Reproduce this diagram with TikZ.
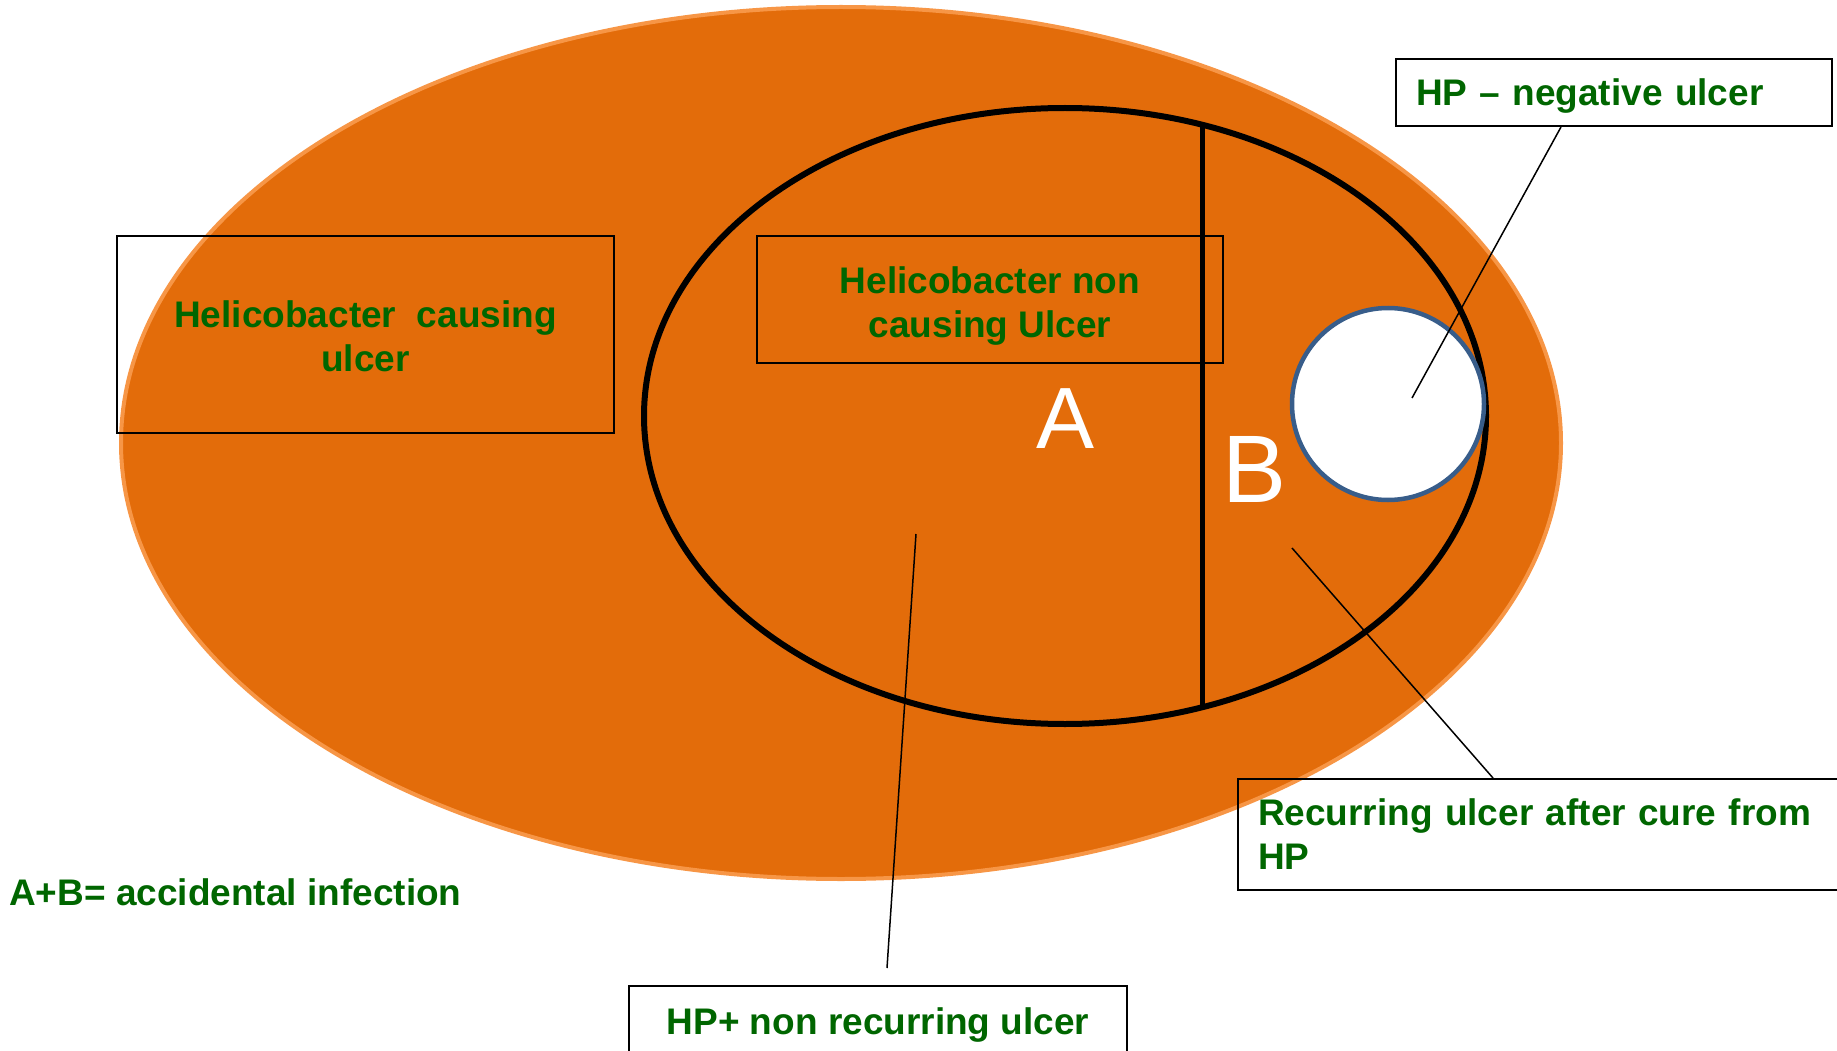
\documentclass[tikz,border=0pt]{standalone}
\usepackage{fontspec}
\setmainfont{Liberation Sans}
\definecolor{orangefill}{RGB}{227,108,10}
\definecolor{orangeedge}{RGB}{247,150,70}
\definecolor{labelgreen}{RGB}{0,102,0}
\definecolor{circleblue}{RGB}{56,93,138}
\newcommand\boldlabel{\fontsize{37}{44}\selectfont\bfseries}
\tikzset{
  labelbox/.style={draw=black, line width=2pt, font=\boldlabel, text=labelgreen, align=center},
  leader/.style={draw=black, line width=1.5pt},
  bigletter/.style={text=white, anchor=base, inner sep=0pt}
}
\begin{document}
\begin{tikzpicture}[x=1pt,y=-1pt]
\useasboundingbox (0,0) rectangle (1837,1051);
% outer population
\draw[fill=orangefill, draw=orangeedge, line width=4pt] (841,443) ellipse [x radius=720pt, y radius=436pt];
% inner ellipse
\draw[line width=6pt, black] (1065,416) ellipse [x radius=421pt, y radius=308pt];
% boxes
\node[labelbox, minimum width=497pt, minimum height=197pt] (causing) at (365.5,334.5) {\rule{0pt}{31pt}Helicobacter\ \ causing\\ulcer};
\node[labelbox, minimum width=466pt, minimum height=127pt] (noncausing) at (990,299.5) {\rule{0pt}{39pt}Helicobacter non\\causing Ulcer};
% divider
\draw[line width=5pt, black] (1202,125) -- (1202,707);
% HP negative circle
\draw[fill=white, draw=circleblue, line width=4.5pt] (1388,404) circle [radius=96pt];
\node[labelbox, minimum width=436pt, minimum height=67pt, inner xsep=20pt, text width=396pt, align=left, text height=26.5pt, text depth=0pt] (negative) at (1614,92.5) {HP – negative ulcer};
\node[labelbox, minimum width=620pt, minimum height=111pt, inner xsep=20pt, text width=580pt, align=left] (recurring) at (1548,834.5) {Recurring ulcer after cure from\\HP};
\node[labelbox, anchor=north, minimum width=498pt, inner ysep=18pt, text height=30pt, text depth=100pt] (nonrecurring) at (878,985) {HP+ non recurring ulcer};
% letters
\node[bigletter, font=\fontsize{87}{87}\selectfont] (labelA) at (1066,448) {A};
\node[bigletter, font=\fontsize{96}{96}\selectfont] (labelB) at (1255,502) {B};
\node[font=\boldlabel, text=labelgreen, anchor=base west, inner sep=0pt] (sum) at (9,905) {A+B= accidental infection};
% leaders
\coordinate (negStart) at ([xshift=166pt]negative.south west);
\coordinate (negEnd) at (1412,398);
\coordinate (recStart) at ([xshift=256pt]recurring.north west);
\coordinate (recEnd) at (1292,548);
\coordinate (nonStart) at ([xshift=9pt,yshift=17pt]nonrecurring.north);
\coordinate (nonEnd) at (916,534);
\draw[leader] (negStart) -- (negEnd);
\draw[leader] (recStart) -- (recEnd);
\draw[leader] (nonStart) -- (nonEnd);
\end{tikzpicture}
\end{document}
